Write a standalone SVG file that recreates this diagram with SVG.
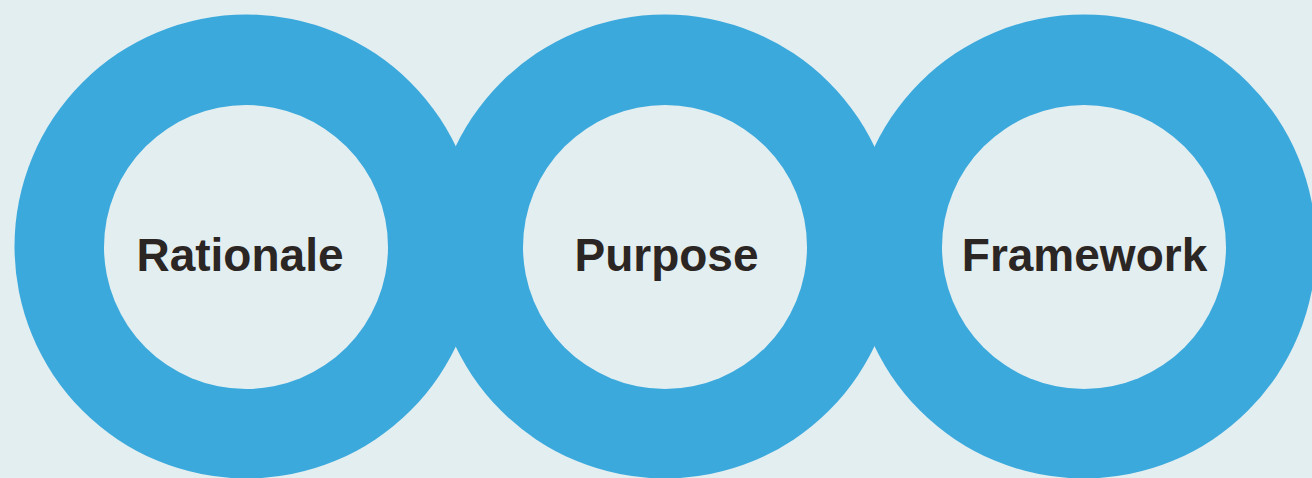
<svg xmlns="http://www.w3.org/2000/svg" width="1312" height="478" viewBox="0 0 1312 478">
<style>
.ring{fill:#3ba9dc}
.hole{fill:#e3eef1}
.lbl{font-family:"Liberation Sans",Arial,sans-serif;font-weight:bold;font-size:46px;fill:#2b2623;text-anchor:middle}
</style>
<rect width="1312" height="478" fill="#e3eef1"/>
<g id="rings">
<circle class="ring" cx="246.5" cy="246.5" r="232"/>
<circle class="ring" cx="665" cy="246.5" r="232"/>
<circle class="ring" cx="1084" cy="246.5" r="232"/>
</g>
<g id="node-rationale">
<circle class="hole" cx="246" cy="247" r="142"/>
<text class="lbl" x="240" y="271">Rationale</text>
</g>
<g id="node-purpose">
<circle class="hole" cx="665" cy="247" r="142"/>
<text class="lbl" x="666.5" y="271">Purpose</text>
</g>
<g id="node-framework">
<circle class="hole" cx="1084" cy="247" r="142"/>
<text class="lbl" x="1084.5" y="271">Framework</text>
</g>
<g id="connectors"></g>
</svg>
